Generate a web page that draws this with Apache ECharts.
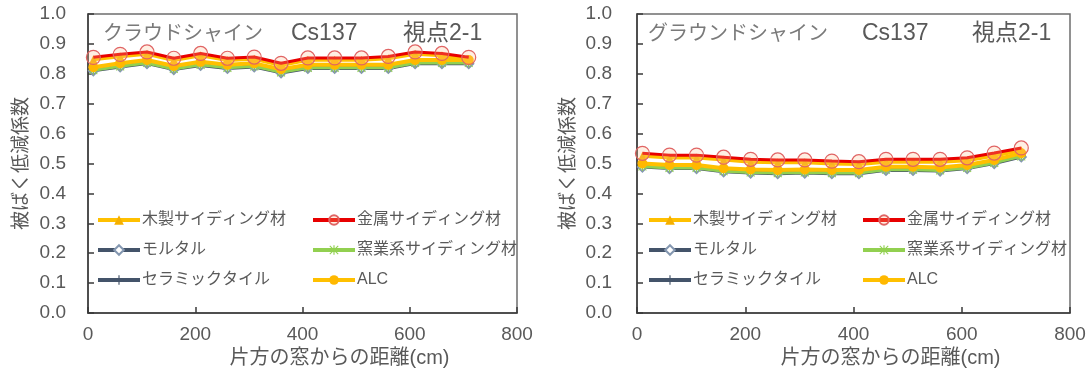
<!DOCTYPE html>
<html>
<head>
<meta charset="utf-8">
<script src="https://cdn.jsdelivr.net/npm/echarts@6/dist/echarts.min.js"></script>
<style>
  html, body { margin: 0; padding: 0; background: #ffffff; }
  #chart { width: 1091px; height: 376px; }
</style>
</head>
<body>
<div id="chart"></div>
<script>
// Distance from one window (cm)
const distances = [10, 60, 110, 160, 210, 260, 310, 360, 410, 460, 510, 560, 610, 660, 710];

// Cloud shine, Cs137, viewpoint 2-1
const cloudWood    = [0.849, 0.859, 0.867, 0.846, 0.862, 0.846, 0.850, 0.829, 0.847, 0.847, 0.847, 0.852, 0.867, 0.862, 0.849];
const cloudMetal   = [0.855, 0.865, 0.873, 0.852, 0.868, 0.852, 0.856, 0.835, 0.853, 0.853, 0.853, 0.858, 0.873, 0.868, 0.855];
const cloudMortar  = [0.810, 0.823, 0.834, 0.814, 0.828, 0.818, 0.823, 0.803, 0.818, 0.818, 0.818, 0.818, 0.834, 0.834, 0.834];
const cloudYogyo   = [0.812, 0.825, 0.836, 0.816, 0.830, 0.820, 0.825, 0.805, 0.820, 0.820, 0.820, 0.820, 0.836, 0.836, 0.836];
const cloudCeramic = [0.815, 0.828, 0.839, 0.819, 0.833, 0.823, 0.828, 0.808, 0.823, 0.823, 0.823, 0.823, 0.839, 0.839, 0.839];
const cloudALC     = [0.822, 0.835, 0.846, 0.826, 0.840, 0.830, 0.835, 0.815, 0.830, 0.830, 0.830, 0.830, 0.846, 0.846, 0.846];

// Ground shine, Cs137, viewpoint 2-1
const groundWood    = [0.526, 0.520, 0.520, 0.513, 0.506, 0.504, 0.504, 0.500, 0.498, 0.506, 0.506, 0.506, 0.511, 0.527, 0.544];
const groundMetal   = [0.534, 0.528, 0.528, 0.521, 0.514, 0.512, 0.512, 0.508, 0.506, 0.514, 0.514, 0.514, 0.519, 0.535, 0.552];
const groundMortar  = [0.488, 0.483, 0.483, 0.472, 0.468, 0.466, 0.468, 0.466, 0.466, 0.477, 0.477, 0.475, 0.483, 0.500, 0.522];
const groundYogyo   = [0.490, 0.485, 0.485, 0.474, 0.470, 0.468, 0.470, 0.468, 0.468, 0.479, 0.479, 0.477, 0.485, 0.502, 0.524];
const groundCeramic = [0.494, 0.489, 0.489, 0.478, 0.474, 0.472, 0.474, 0.472, 0.472, 0.483, 0.483, 0.481, 0.489, 0.506, 0.528];
const groundALC     = [0.500, 0.495, 0.495, 0.484, 0.480, 0.478, 0.480, 0.478, 0.478, 0.489, 0.489, 0.487, 0.495, 0.512, 0.534];

const xTicks = [0, 200, 400, 600, 800];
const yTicks = [0.0, 0.1, 0.2, 0.3, 0.4, 0.5, 0.6, 0.7, 0.8, 0.9, 1.0];

const panelTitles = [
  ['クラウドシャイン', 'Cs137', '視点2-1'],
  ['グラウンドシャイン', 'Cs137', '視点2-1']
];
const materials = ['木製サイディング材', '金属サイディング材', 'モルタル', '窯業系サイディング材', 'セラミックタイル', 'ALC'];
const xAxisName = '片方の窓からの距離(cm)';
const yAxisName = '被ばく低減係数';

const FONT = "'Liberation Sans', 'Noto Sans CJK JP', sans-serif";
const TEXT = '#595959';

const plusPath = 'path://M4.4,0H5.6V4.4H10V5.6H5.6V10H4.4V5.6H0V4.4H4.4Z';
const starPath = 'path://M0,4.4H10V5.6H0Z M4.4,0H5.6V10H4.4Z M1,0.2L9.8,9L9,9.8L0.2,1Z M9,0.2L9.8,1L1,9.8L0.2,9Z';

// Per-material look
const styles = {
  'モルタル':           { line: '#44546A', width: 3, symbol: 'emptyDiamond', size: 9, item: { color: '#8497B0', borderWidth: 1 } },
  'セラミックタイル':   { line: '#44546A', width: 3, symbol: plusPath, size: 9, item: { color: '#44546A' } },
  '窯業系サイディング材': { line: '#92D050', width: 3, symbol: starPath, size: 9, item: { color: '#92D050' } },
  '木製サイディング材': { line: '#FFC000', width: 4, symbol: 'triangle', size: 8, item: { color: '#F5B000' } },
  'ALC':                { line: '#FFC000', width: 4, symbol: 'circle', size: 10, item: { color: '#FFB800' } },
  '金属サイディング材': { line: '#E80000', width: 3, symbol: 'circle', size: 14, item: { color: 'rgba(255,190,140,0.25)', borderColor: '#E06464', borderWidth: 1.2 } }
};

const panelData = [
  { '木製サイディング材': cloudWood, '金属サイディング材': cloudMetal, 'モルタル': cloudMortar,
    '窯業系サイディング材': cloudYogyo, 'セラミックタイル': cloudCeramic, 'ALC': cloudALC },
  { '木製サイディング材': groundWood, '金属サイディング材': groundMetal, 'モルタル': groundMortar,
    '窯業系サイディング材': groundYogyo, 'セラミックタイル': groundCeramic, 'ALC': groundALC }
];

// Drawing order: dark lines underneath, yellow in the middle, red on top
const drawOrder = ['モルタル', 'セラミックタイル', '窯業系サイディング材', '木製サイディング材', 'ALC', '金属サイディング材'];

const grids = [
  { left: 88, top: 14, width: 429, height: 299 },
  { left: 637, top: 14, width: 433, height: 299 }
];

const series = [];
panelData.forEach((data, p) => {
  drawOrder.forEach((name, k) => {
    const s = styles[name];
    series.push({
      name: name,
      type: 'line',
      xAxisIndex: p,
      yAxisIndex: p,
      data: distances.map((d, i) => [d, data[name][i]]),
      symbol: s.symbol,
      symbolSize: s.size,
      showAllSymbol: true,
      lineStyle: { color: s.line, width: s.width },
      itemStyle: Object.assign({ opacity: 1 }, s.item),
      z: 2 + k,
      silent: true,
      animation: false
    });
  });
});

function xAxisFor(p) {
  return {
    type: 'value', gridIndex: p, min: xTicks[0], max: xTicks[xTicks.length - 1],
    interval: xTicks[1] - xTicks[0],
    axisLine: { show: true, lineStyle: { color: '#3a3a3a', width: 1.5 } },
    axisTick: { show: true, inside: true, length: 6, lineStyle: { color: '#3a3a3a', width: 1.5 } },
    axisLabel: { fontSize: 19, color: TEXT, fontFamily: FONT, margin: 12 },
    splitLine: { show: false },
    name: xAxisName, nameLocation: 'middle', nameGap: 34,
    nameTextStyle: { fontSize: 20, color: TEXT, fontFamily: FONT, padding: [0, 0, 0, 74] }
  };
}
function yAxisFor(p) {
  return {
    type: 'value', gridIndex: p, min: yTicks[0], max: yTicks[yTicks.length - 1],
    interval: 0.1,
    axisLine: { show: true, lineStyle: { color: '#3a3a3a', width: 1.5 } },
    axisTick: { show: true, inside: true, length: 6, lineStyle: { color: '#3a3a3a', width: 1.5 } },
    axisLabel: { fontSize: 19, color: TEXT, fontFamily: FONT, margin: p === 0 ? 22 : 25,
                 formatter: v => v.toFixed(1) },
    splitLine: { show: false },
    name: yAxisName, nameLocation: 'middle', nameRotate: 90, nameGap: p === 0 ? 57 : 59,
    nameTextStyle: { fontSize: 19, color: TEXT, fontFamily: FONT }
  };
}

const titleLefts = [[103, 291, 403], [648, 862, 972]];
const titles = [];
panelTitles.forEach((parts, p) => {
  parts.forEach((t, j) => {
    titles.push({
      text: t, left: titleLefts[p][j], top: j === 0 ? 24 : 22, padding: 0,
      textStyle: { fontSize: j === 0 ? 20 : 23, fontWeight: 'normal', color: j === 0 ? '#7a7a7a' : '#595959', fontFamily: FONT }
    });
  });
});

const legendCols = [
  ['木製サイディング材', 'モルタル', 'セラミックタイル'],
  ['金属サイディング材', '窯業系サイディング材', 'ALC']
];
const legendLefts = [[96, 311], [647, 861]];
const legends = [];
legendLefts.forEach(lefts => {
  lefts.forEach((left, c) => {
    legends.push({
      data: legendCols[c], orient: 'vertical', left: left, top: 212, padding: 0,
      itemWidth: 42, itemHeight: 12, itemGap: 14, selectedMode: false,
      lineStyle: { width: 4 },
      textStyle: { fontSize: 16, color: TEXT, fontFamily: FONT, lineHeight: 16, padding: [0, 0, 0, -3] }
    });
  });
});

const chart = echarts.init(document.getElementById('chart'), null, { renderer: 'canvas' });
chart.setOption({
  backgroundColor: '#ffffff',
  animation: false,
  title: titles,
  legend: legends,
  grid: grids.map(g => Object.assign({ show: true, borderColor: '#6e6e6e', borderWidth: 1.5, backgroundColor: 'transparent' }, g)),
  xAxis: [xAxisFor(0), xAxisFor(1)],
  yAxis: [yAxisFor(0), yAxisFor(1)],
  series: series
});
</script>
</body>
</html>
